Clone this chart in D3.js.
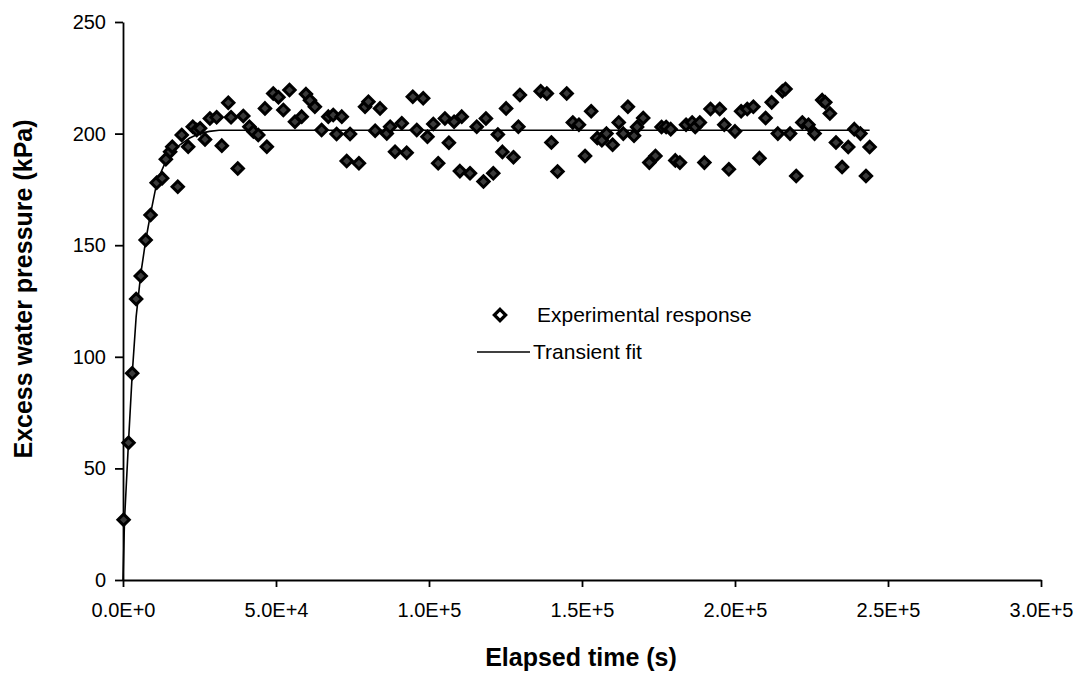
<!DOCTYPE html>
<html>
<head>
<meta charset="utf-8">
<script src="https://cdn.jsdelivr.net/npm/d3@7"></script>
<style>
  body { margin: 0; background: #fff; }
  text { font-family: "Liberation Sans", Arial, sans-serif; fill: #000; }
</style>
</head>
<body>
<svg id="chart" width="1078" height="673"></svg>
<script>
'use strict'
// experimental points: elapsed time (s) and excess water pressure (kPa)
var timeS = [
  200, 1800, 3000, 4300, 5800, 7400, 9000, 11000, 12800, 14000,
  15400, 16100, 17900, 19200, 21300, 22800, 24100, 25200, 26800, 28400,
  30600, 32300, 34400, 35300, 37500, 39300, 41300, 42600, 44200, 46400,
  47000, 49100, 50800, 52400, 54400, 56200, 58400, 59800, 61100, 62700,
  64900, 67100, 68700, 69800, 71500, 73100, 74200, 77100, 79100, 80200,
  82400, 84000, 86200, 87300, 88900, 91100, 92700, 94700, 96000, 98100,
  99500, 101400, 103000, 105200, 106500, 108200, 110100, 110700, 113400, 115600,
  117800, 118600, 121000, 122500, 124000, 125200, 127600, 129200, 129700,
  136500, 138500, 140000, 142000, 145000, 147000, 149000, 151000, 153000, 155000,
  156500, 158000, 160000, 162000, 163500, 165000, 167000, 168000, 170000, 172000,
  174000, 176000, 177500, 179000, 180500, 182000, 184000, 186000, 187000, 188500,
  190000, 192000, 195000, 196500, 198000, 200000, 202000, 204000, 206000, 208000,
  210000, 212000, 214000, 215500, 216500, 218000, 220000, 222000, 224000, 226000,
  228500, 229500, 231000, 233000, 235000, 237000, 239000, 241000, 242800, 244000
];
var pressureKPa = [
  27, 61.5, 92.6, 125.9, 136.2, 152.3, 163.5, 178.0, 180.0, 188.5,
  191.9, 194.1, 176.2, 199.4, 194.1, 203.1, 201.6, 202.4, 197.4, 206.8,
  207.3, 194.6, 213.8, 207.3, 184.4, 207.9, 203.1, 200.9, 199.4, 211.3,
  194.1, 218.0, 216.3, 210.6, 219.5, 205.3, 207.6, 217.7, 214.9, 212.0,
  201.6, 207.6, 208.3, 199.8, 207.6, 187.7, 199.8, 186.7, 212.0, 214.3,
  201.3, 211.3, 200.1, 203.1, 191.9, 204.6, 191.4, 216.5, 201.6, 215.8,
  198.6, 204.3, 186.7, 206.8, 195.9, 205.3, 183.2, 207.6, 182.2, 203.1,
  178.5, 206.8, 182.2, 199.6, 191.8, 211.3, 189.4, 203.1, 217.3,
  219, 218, 196, 183, 218, 205, 204, 190, 210, 198,
  197, 200, 195, 205, 200, 212, 199, 203, 207, 187,
  190, 203, 203, 202, 188, 187, 204, 205, 203, 205,
  187, 211, 211, 204, 184, 201, 210, 211, 212, 189,
  207, 214, 200, 219, 220, 200, 181, 205, 204, 200,
  215, 214, 209, 196, 185, 194, 202, 200, 181, 194
];
// transient fit curve
var fitTime = [0, 500, 1800, 3000, 4300, 5800, 7400, 9000, 10600, 12200, 13800, 15400, 18600, 21800, 25000, 28200, 31400, 244000];
var fitPressure = [0, 27, 62, 92, 118, 137, 152, 164, 175, 182, 187, 191, 195, 198, 200, 201, 201.5, 201.5];

var xTicks = [0, 50000, 100000, 150000, 200000, 250000, 300000];
var yTicks = [0, 50, 100, 150, 200, 250];

var svg = d3.select("#chart");
var x = d3.scaleLinear().domain([0, 300000]).range([123, 1041]);
var y = d3.scaleLinear().domain([0, 250]).range([580, 22]);

// axes
var xAxis = svg.append("g")
  .attr("transform", "translate(0," + y(0) + ")")
  .call(d3.axisBottom(x).tickValues(xTicks).tickSize(7).tickSizeOuter(0).tickPadding(16)
    .tickFormat(function (d) { return d3.format(".1e")(d).toUpperCase(); }));
var yAxis = svg.append("g")
  .attr("transform", "translate(" + x(0) + ",0)")
  .call(d3.axisLeft(y).tickValues(yTicks).tickSize(8).tickSizeOuter(0).tickPadding(9));
[xAxis, yAxis].forEach(function (g) {
  g.selectAll("path,line").attr("stroke", "#000").attr("stroke-width", 1.8);
  g.selectAll("text").attr("font-size", 20).attr("font-family", "Liberation Sans, Arial, sans-serif");
});

// fit line
var line = d3.line()
  .x(function (d, i) { return x(fitTime[i]); })
  .y(function (d) { return y(d); });
svg.append("path")
  .attr("d", line(fitPressure))
  .attr("fill", "none")
  .attr("stroke", "#000")
  .attr("stroke-width", 1.6);

// diamond marker, square turned 45 degrees
var diamond = {
  draw: function (context, size) {
    var r = Math.sqrt(size / 2);
    context.moveTo(0, -r);
    context.lineTo(r, 0);
    context.lineTo(0, r);
    context.lineTo(-r, 0);
    context.closePath();
  }
};
var marker = d3.symbol().type(diamond).size(64);

svg.append("g").selectAll("path")
  .data(pressureKPa)
  .enter().append("path")
  .attr("d", marker)
  .attr("transform", function (d, i) { return "translate(" + x(timeS[i]) + "," + y(d) + ")"; })
  .attr("fill", "#3a3a3a")
  .attr("stroke", "#000")
  .attr("stroke-width", 3);

// legend
var legend = svg.append("g");
legend.append("path")
  .attr("d", marker)
  .attr("transform", "translate(500,315)")
  .attr("fill", "#fff")
  .attr("stroke", "#000")
  .attr("stroke-width", 3.2);
legend.append("text").attr("x", 537).attr("y", 322).attr("font-size", 21)
  .text("Experimental response");
legend.append("line")
  .attr("x1", 477).attr("x2", 530).attr("y1", 352).attr("y2", 352)
  .attr("stroke", "#000").attr("stroke-width", 1.6);
legend.append("text").attr("x", 533).attr("y", 359).attr("font-size", 21)
  .text("Transient fit");

// axis titles
svg.append("text")
  .attr("x", 581).attr("y", 666)
  .attr("text-anchor", "middle")
  .attr("font-size", 25).attr("font-weight", "bold")
  .text("Elapsed time (s)");
svg.append("text")
  .attr("transform", "translate(32,289) rotate(-90)")
  .attr("text-anchor", "middle")
  .attr("font-size", 25).attr("font-weight", "bold")
  .text("Excess water pressure (kPa)");
</script>
</body>
</html>
